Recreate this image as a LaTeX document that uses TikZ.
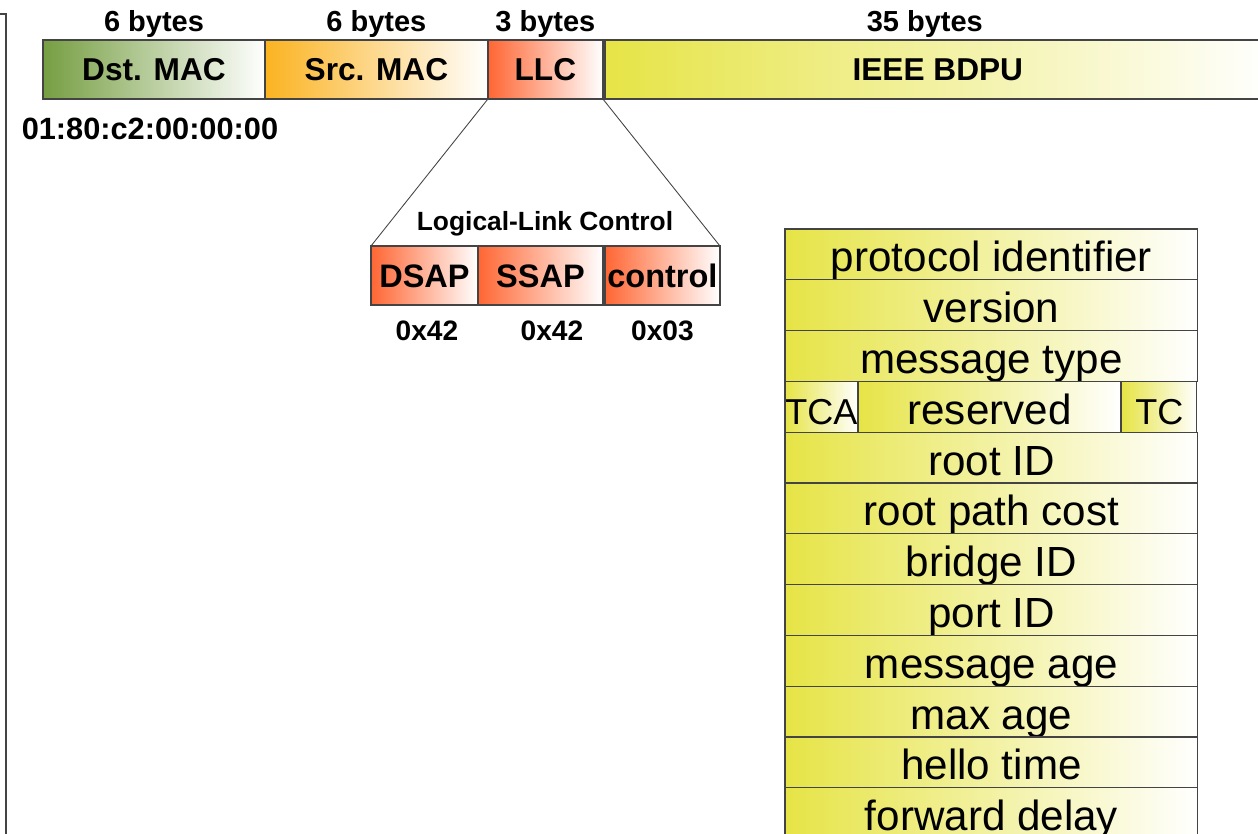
\documentclass[tikz,border=0pt]{standalone}
\usepackage{fontspec}
\setmainfont{Liberation Sans}
\usetikzlibrary{positioning}
\definecolor{macverde}{HTML}{769E42}
\definecolor{macoro}{HTML}{FBB321}
\definecolor{llcrojo}{HTML}{FF6633}
\definecolor{bpduamar}{HTML}{E6E446}
\definecolor{borde}{HTML}{444444}

\begin{document}
\begin{tikzpicture}[x=0.02cm,y=-0.02cm,
          fld/.style={draw=borde,line width=0.7pt,inner sep=0pt,outer sep=0pt,minimum height=1.18cm,
                      right color=white,font=\fontsize{18}{21}\selectfont\bfseries},
          hdr/.style={font=\fontsize{16.5}{19}\selectfont\bfseries,inner sep=0pt},
          sub/.style={fld,left color=llcrojo,font=\fontsize{18.5}{21}\selectfont\bfseries,
                      text height=14pt,text depth=0pt},
          val/.style={font=\fontsize{16}{19}\selectfont\bfseries,inner sep=0pt},
          row/.style={draw=borde,line width=0.6pt,inner sep=0pt,outer sep=0pt,anchor=north west,
                      minimum width=8.26cm,minimum height=1.016cm,
                      left color=bpduamar,right color=white,
                      font=\fontsize{24}{28}\selectfont,text height=21pt,text depth=1pt},
          flag/.style={row,minimum width=#1,font=\fontsize{20.5}{24}\selectfont}]
        \useasboundingbox (0,0) rectangle (1258,834);
        \clip (0,0) rectangle (1258,834);
        % frame header
        \node[fld,left color=macverde,minimum width=4.44cm,anchor=north west] (dst) at (43,40) {Dst. MAC};
        \node[fld,left color=macoro,minimum width=4.46cm,right=0pt of dst] (src) {Src. MAC};
        \node[fld,left color=llcrojo,minimum width=2.30cm,right=0pt of src] (llc) {LLC};
        \node[fld,left color=bpduamar,minimum width=13.32cm,right=0.04cm of llc] (bpdu) {IEEE BDPU};
        \node[hdr,above=0.05cm of dst] (hdst) {6 bytes};
        \node[hdr,above=0.05cm of src] (hsrc) {6 bytes};
        \node[hdr,above=0.05cm of llc] (hllc) {3 bytes};
        \node[hdr,above=0.05cm of bpdu,xshift=-0.26cm] (hbpdu) {35 bytes};
        \node[font=\fontsize{17.5}{20}\selectfont\bfseries,inner sep=0pt,
              below=0.38cm of dst,xshift=-0.08cm] (addr) {01:80:c2:00:00:00};
        % LLC zoom
        \node[sub,minimum width=2.14cm,anchor=north west] (dsap) at (371,246) {DSAP};
        \node[sub,minimum width=2.50cm,right=0pt of dsap] (ssap) {SSAP};
        \node[sub,minimum width=2.30cm,right=0.04cm of ssap] (ctl) {control};
        \node[font=\fontsize{15}{18}\selectfont\bfseries,inner sep=0pt,
              above=0.2cm of ssap,xshift=0.09cm] (llctit) {Logical-Link Control};
        \draw[borde,line width=0.5pt] (llc.south west) -- (dsap.north west);
        \draw[borde,line width=0.5pt] (llc.south east) -- (ctl.north east);
        \node[val,below=0.32cm of dsap,xshift=0.05cm] (vdsap) {0x42};
        \node[val,below=0.32cm of ssap,xshift=0.23cm] (vssap) {0x42};
        \node[val,below=0.32cm of ctl] (vctl) {0x03};
        % BPDU fields
        \foreach \i/\txt in {0/protocol identifier,1/version,2/message type,4/root ID,
                             5/root path cost,6/bridge ID,7/port ID,8/message age,
                             9/max age,10/hello time,11/forward delay}
          \node[row] (r\i) at (785,229+50.8*\i) {\txt};
        \node[flag=1.46cm] (tca) at (785,381.4) {TCA};
        \node[row,minimum width=5.26cm,right=0pt of tca] (rsv) {reserved};
        \node[flag=1.50cm,right=0.02cm of rsv] (tc) {TC};
        % left margin rule
        \draw[borde,line width=0.9pt] (0,14) -- (6,14) -- (6,840);
      \end{tikzpicture}
\end{document}
